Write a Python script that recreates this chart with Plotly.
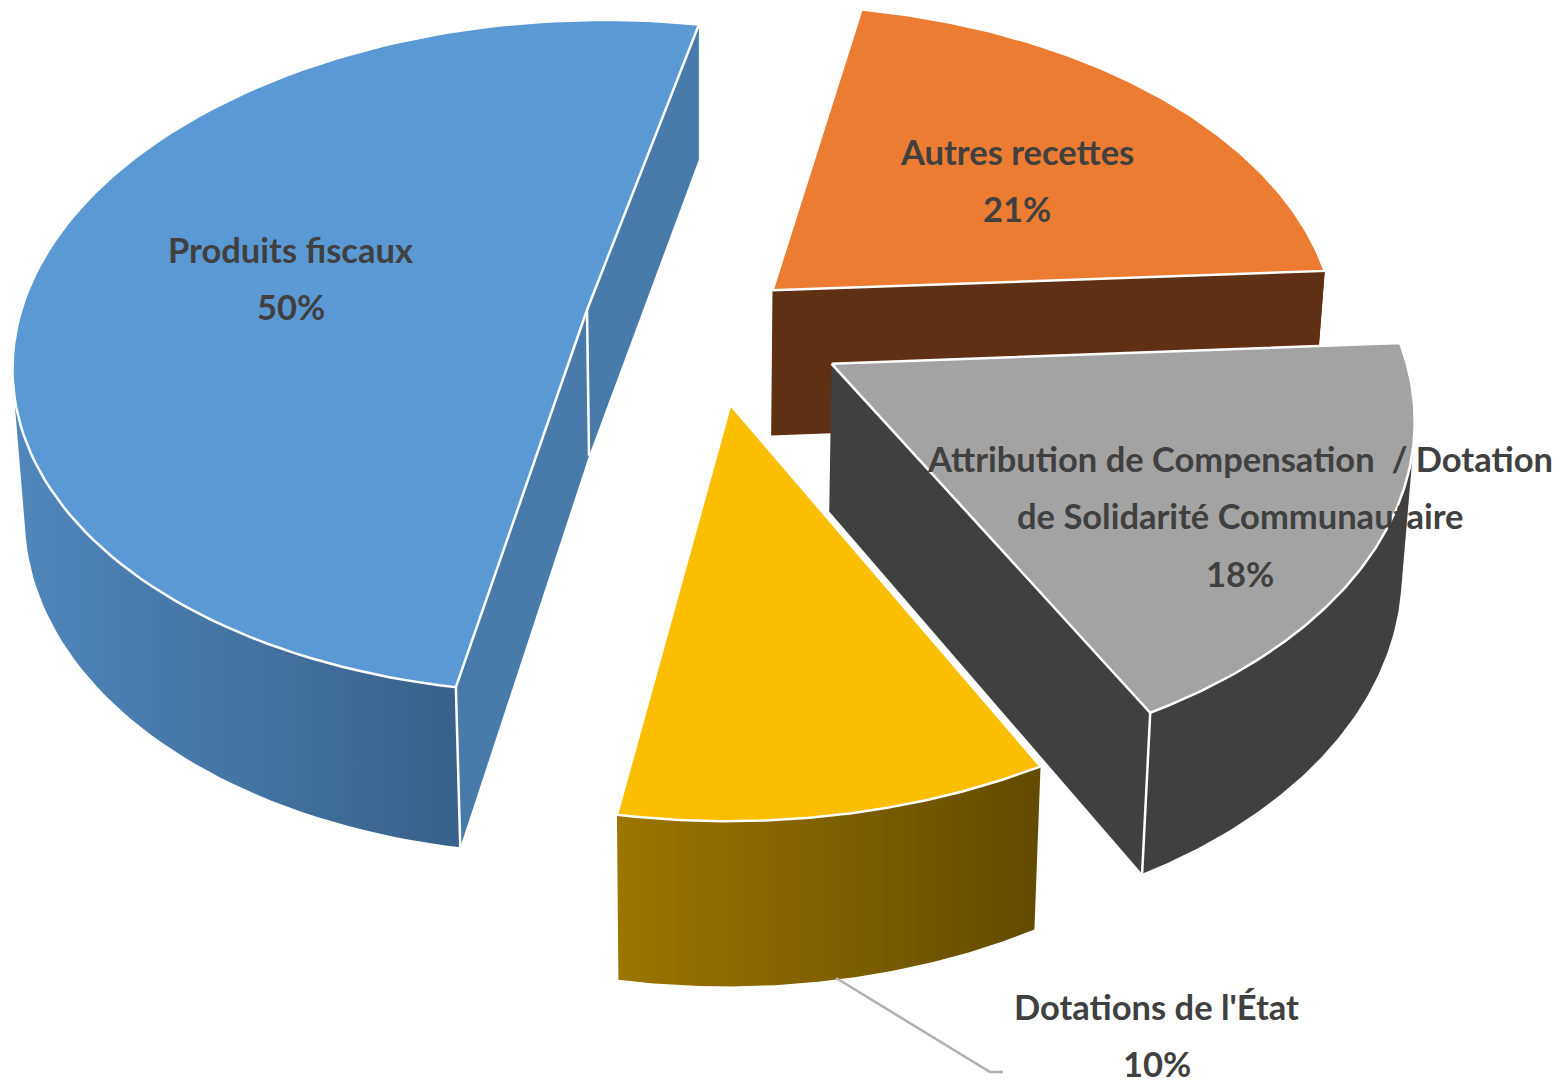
import numpy as np
import plotly.graph_objects as go

LABELS = ["Autres recettes", "Attribution de Compensation  / Dotation de Solidarité Communautaire", "Dotations de l'État", "Produits fiscaux"]
SHARES = [21.0, 18.3, 10.3, 50.4]
PULLS = [0.15, 0.245, 0.24, 0.22]

TOP_COLORS = ["#EB7C31", "#A3A3A3", "#FBBE00", "#5B99D4"]
CUT_COLORS = ["#5F3013", "#404040", "#634A00", "#487BAA"]
WALL_SCALES = [
    [[0, "#5F3013"], [1, "#5F3013"]],
    [[0, "#404040"], [1, "#404040"]],
    [[0, "#9C7600"], [1, "#634A00"]],
    [[0, "#5087BC"], [1, "#37618A"]],
]
# which cut faces can be seen on each slice
VISIBLE_CUTS = [[-1], [-1], [], [0, -1]]

# projection of the tilted pie, in page pixels
START_ANGLE = 13
WALL_LIMIT = 300  # nothing of the wall shows past this angle
CX, CY = 587, 310
RX, RY = 565, 330
SHEAR = 12
PERSP_V = 0.138
PERSP_U = 0.007


def project(u, v, bottom=False):
    w = 1 + PERSP_V * v + PERSP_U * u
    x = CX + RX * u / w
    y = CY - (RY * v + SHEAR * u) / w
    if bottom:
        x = 700 + 0.982 * (x - 700)
        y = 1.038 * y + 134
    return x, y


def outline(xs, ys):
    # convex hull, so the wall also covers the straight silhouette between both arcs
    pts = sorted(set(zip(np.round(xs, 2).tolist(), np.round(ys, 2).tolist())))

    def half(points):
        out = []
        for p in points:
            while len(out) > 1 and ((out[-1][0] - out[-2][0]) * (p[1] - out[-2][1])
                                    - (out[-1][1] - out[-2][1]) * (p[0] - out[-2][0])) <= 0:
                out.pop()
            out.append(p)
        return out[:-1]

    hull = half(pts) + half(pts[::-1])
    hull.append(hull[0])
    return [p[0] for p in hull], [p[1] for p in hull]


def edge(p, q):
    return go.Scatter(x=[p[0], q[0]], y=[p[1], q[1]], mode="lines", line=dict(color="white", width=2.5),
                      hoverinfo="skip", showlegend=False)


angles = np.cumsum([0] + SHARES) / sum(SHARES) * 360 + START_ANGLE
mids = np.radians((angles[:-1] + angles[1:]) / 2)

# the slices are pulled away from a common centre, fixed by the big slice
centre_u = -PULLS[3] * np.sin(mids[3])
centre_v = -PULLS[3] * np.cos(mids[3])

fig = go.Figure()
for i in [3, 0, 1, 2]:
    au = centre_u + PULLS[i] * np.sin(mids[i])
    av = centre_v + PULLS[i] * np.cos(mids[i])
    deg = np.linspace(angles[i], angles[i + 1], 120)
    theta = np.radians(deg)
    arc_u = au + np.sin(theta)
    arc_v = av + np.cos(theta)

    tx, ty = project(arc_u, arc_v)
    bx, by = project(arc_u, arc_v, bottom=True)
    ax, ay = project(au, av)
    cx, cy = project(au, av, bottom=True)

    # outer wall
    keep = deg < WALL_LIMIT
    wx, wy = outline(np.r_[tx[keep], bx[keep]], np.r_[ty[keep], by[keep]])
    fig.add_trace(go.Scatter(
        x=wx, y=wy, mode="lines", fill="toself",
        fillgradient=dict(type="horizontal", colorscale=WALL_SCALES[i]),
        line=dict(width=0), hoverinfo="skip", showlegend=False,
    ))
    # cut faces
    for j in VISIBLE_CUTS[i]:
        fig.add_trace(go.Scatter(
            x=[ax, tx[j], bx[j], cx, ax], y=[ay, ty[j], by[j], cy, ay], mode="lines", fill="toself",
            fillcolor=CUT_COLORS[i], line=dict(width=0), hoverinfo="skip", showlegend=False,
        ))
    if i == 3:
        fig.add_trace(edge((ax, ay), (cx, cy)))
        fig.add_trace(edge((tx[0], ty[0]), (bx[0], by[0])))
    if i == 1:
        fig.add_trace(edge((tx[-1], ty[-1]), (bx[-1], by[-1])))
    # top face
    fig.add_trace(go.Scatter(
        x=np.r_[ax, tx, ax], y=np.r_[ay, ty, ay], mode="lines", fill="toself",
        fillcolor=TOP_COLORS[i], line=dict(color="white", width=2.5), hoverinfo="skip", showlegend=False,
    ))

# leader line for the small slice
fig.add_trace(go.Scatter(x=[836, 990, 1003], y=[978, 1072, 1072], mode="lines",
                         line=dict(color="#B0B0B0", width=2.5), hoverinfo="skip", showlegend=False))

LABEL_LINES = [
    ("Produits fiscaux", 290, 249), ("50%", 291, 306),
    ("Autres recettes", 1017, 151), ("21%", 1017, 208),
    ("Attribution de Compensation  / Dotation", 1240, 458),
    ("de Solidarité Communautaire", 1240, 515), ("18%", 1240, 573),
    ("Dotations de l'État", 1156, 1006), ("10%", 1157, 1063),
]
for text, x, y in LABEL_LINES:
    fig.add_annotation(x=x, y=y, text=text, showarrow=False, xanchor="center", yanchor="middle",
                       font=dict(family="Lato", size=34.5, color="#404040", weight="bold"))

# ranges start at 8: the page body keeps its default margin
fig.update_layout(
    width=1560, height=1083,
    margin=dict(l=0, r=0, t=0, b=0),
    paper_bgcolor="white", plot_bgcolor="white",
    xaxis=dict(range=[8, 1568], visible=False, fixedrange=True),
    yaxis=dict(range=[1091, 8], visible=False, fixedrange=True),
)
fig.write_html("out.html")
